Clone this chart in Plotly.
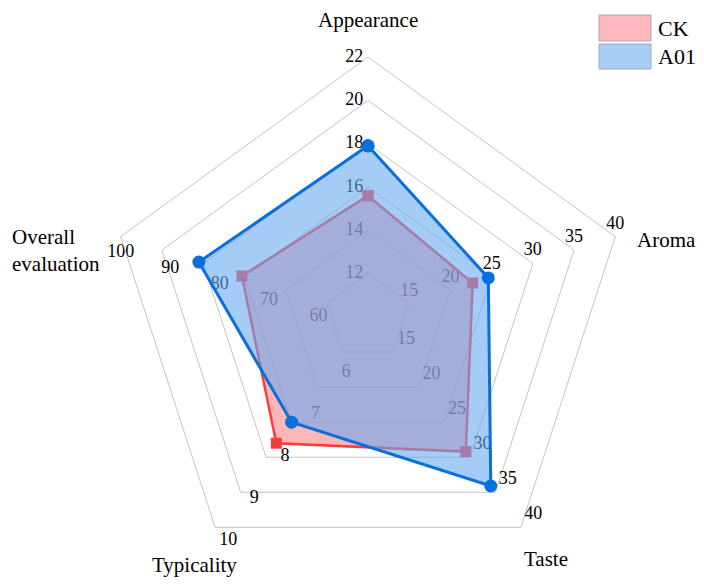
import plotly.graph_objects as go

# ---------------- data ----------------
categories = ["Appearance", "Aroma", "Taste", "Typicality", "Overall evaluation"]
axis_min = [10, 10, 10, 5, 50]
axis_max = [22, 40, 40, 10, 100]

ck_values = [15.6, 22.7, 29.2, 8.0, 75.5]
a01_values = [17.9, 24.6, 34.1, 7.5, 84.2]

appearance_ticks = [12, 14, 16, 18, 20, 22]
aroma_ticks = [15, 20, 25, 30, 35, 40]
taste_ticks = [15, 20, 25, 30, 35, 40]
typicality_ticks = [6, 7, 8, 9, 10]
overall_ticks = [60, 70, 80, 90, 100]

series_names = ["CK", "A01"]

# ---------------- helpers ----------------
N_RINGS = 6
FONT = "'Liberation Serif', 'Times New Roman', 'DejaVu Serif', serif"
W, H = 704, 587


def to_r(v, i):
    return (v - axis_min[i]) / (axis_max[i] - axis_min[i]) * N_RINGS


def px_x(x):
    return x / W


def px_y(y):
    return 1 - y / H


fig = go.Figure()

# per-axis tick labels (drawn first so the fills overlay them)
all_ticks = [appearance_ticks, aroma_ticks, taste_ticks, typicality_ticks, overall_ticks]
tick_pos = ["middle left", "top center", "top right", "bottom right", "bottom center"]
tick_pad = [6, 4, 4, 5, 9]   # invisible marker size -> label offset from its position
for i, ticks in enumerate(all_ticks):
    fig.add_trace(go.Scatterpolar(
        r=[to_r(t, i) for t in ticks],
        theta=[categories[i]] * len(ticks),
        mode="markers+text",
        marker=dict(size=tick_pad[i], opacity=0),
        text=[str(t) for t in ticks],
        textposition=tick_pos[i],
        textfont=dict(family=FONT, size=18, color="black"),
        cliponaxis=False,
        showlegend=False,
        hoverinfo="skip",
    ))

styles = {
    "CK": dict(fill="rgba(255,110,115,0.5)", line="#FF3A3A", width=2.5,
               symbol="square", size=11),
    "A01": dict(fill="rgba(105,168,242,0.6)", line="#0A6FDC", width=3,
                symbol="circle", size=13),
}

for name, vals in zip(series_names, [ck_values, a01_values]):
    st = styles[name]
    r = [to_r(v, i) for i, v in enumerate(vals)]
    fig.add_trace(go.Scatterpolar(
        r=r + [r[0]],
        theta=categories + [categories[0]],
        mode="lines+markers",
        fill="toself",
        fillcolor=st["fill"],
        line=dict(color=st["line"], width=st["width"]),
        marker=dict(symbol=st["symbol"], size=st["size"], color=st["line"]),
        name=name,
        showlegend=False,
    ))

# polar layout: center (368,317), outer radius 260 px
cx, cy, R = 368, 317, 260
fig.update_layout(
    width=W, height=H,
    margin=dict(l=0, r=0, t=0, b=0),
    paper_bgcolor="white",
    plot_bgcolor="white",
    font=dict(family=FONT, color="black"),
    polar=dict(
        domain=dict(x=[px_x(cx - R), px_x(cx + R)], y=[px_y(cy + R), px_y(cy - R)]),
        gridshape="linear",
        bgcolor="rgba(0,0,0,0)",
        radialaxis=dict(range=[0, N_RINGS], tickvals=list(range(1, N_RINGS + 1)),
                        showticklabels=False, ticks="", showline=False,
                        gridcolor="#C4C4C4", gridwidth=1),
        angularaxis=dict(rotation=90, direction="clockwise", type="category",
                         categoryorder="array", categoryarray=categories,
                         showticklabels=False, ticks="", showgrid=False,
                         showline=True, linecolor="#C4C4C4", linewidth=1),
    ),
    showlegend=False,
)

# category labels
cat_ann = [
    ("Appearance", 368, 20, "center"),
    ("Aroma", 635, 240, "left"),
    ("Taste", 522, 559, "left"),
    ("Typicality", 150, 565, "left"),
    ("Overall<br>evaluation", 10, 250, "left"),
]
for txt, x, y, xa in cat_ann:
    fig.add_annotation(x=px_x(x), y=px_y(y), xref="paper", yref="paper",
                       text=txt, showarrow=False, xanchor=xa, yanchor="middle",
                       align="left", font=dict(family=FONT, size=21, color="black"))

# legend boxes
legend_fill = {"CK": "#FFB8BC", "A01": "#A6CEF7"}
for k, name in enumerate(series_names):
    y0, y1 = 15 + k * 29, 41 + k * 28
    fig.add_shape(type="rect", xref="paper", yref="paper",
                  x0=px_x(599), x1=px_x(651), y0=px_y(y1), y1=px_y(y0),
                  fillcolor=legend_fill[name], line=dict(color="#AAAAAA", width=1))
    fig.add_annotation(x=px_x(656), y=px_y((y0 + y1) / 2), xref="paper", yref="paper",
                       text=name, showarrow=False, xanchor="left", yanchor="middle",
                       font=dict(family=FONT, size=22, color="black"))

fig.write_html("out.html", config={"displayModeBar": False})
